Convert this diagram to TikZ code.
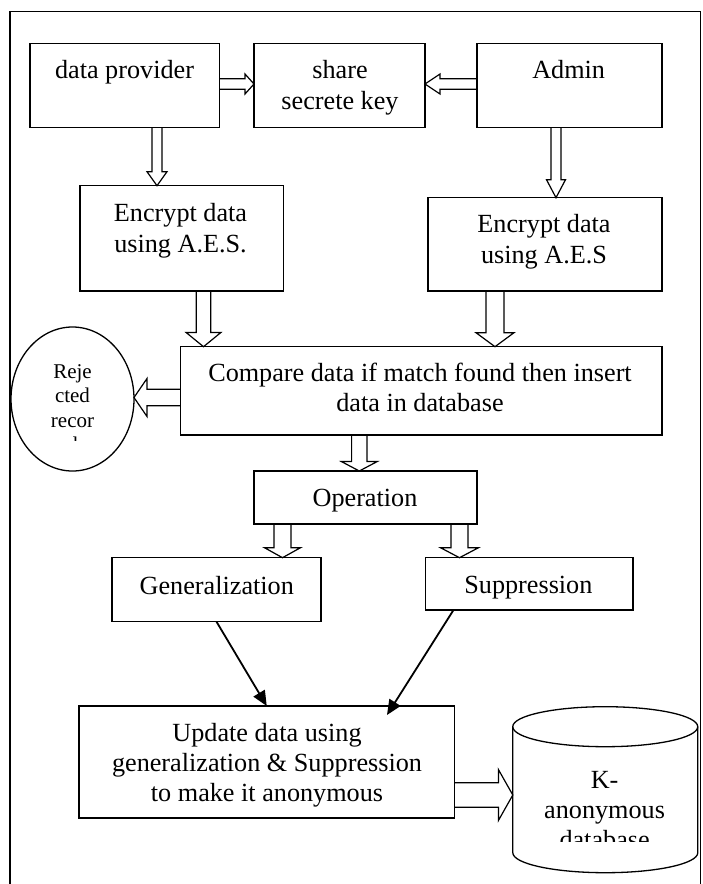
\documentclass[tikz,border=0pt]{standalone}
\usepackage{fontspec}
\setmainfont{Liberation Serif}
\usetikzlibrary{calc,arrows.meta,shapes.geometric}
\newcommand\barrowdown[5]{\draw[barrow] let \p1=#1, \p2=#2 in
 (\x2-#3pt,\y1) -- (\x2-#3pt,\y2+#5pt) -- (\x2-#4pt,\y2+#5pt) -- (\x2,\y2) -- (\x2+#4pt,\y2+#5pt) -- (\x2+#3pt,\y2+#5pt) -- (\x2+#3pt,\y1);}
\newcommand\barrowright[5]{\draw[barrow] let \p1=#1, \p2=#2 in
 (\x1,\y2+#3pt) -- (\x2-#5pt,\y2+#3pt) -- (\x2-#5pt,\y2+#4pt) -- (\x2,\y2) -- (\x2-#5pt,\y2-#4pt) -- (\x2-#5pt,\y2-#3pt) -- (\x1,\y2-#3pt);}
\newcommand\barrowleft[5]{\draw[barrow] let \p1=#1, \p2=#2 in
 (\x1,\y2+#3pt) -- (\x2+#5pt,\y2+#3pt) -- (\x2+#5pt,\y2+#4pt) -- (\x2,\y2) -- (\x2+#5pt,\y2-#4pt) -- (\x2+#5pt,\y2-#3pt) -- (\x1,\y2-#3pt);}
\begin{document}
\begin{tikzpicture}[x=1pt,y=-1pt,
  box/.style={draw, line width=1.3pt, inner sep=0pt, outer sep=0pt},
  txt/.style={font=\fontsize{26.2}{31}\selectfont, inner sep=0pt, anchor=base},
  stxt/.style={font=\fontsize{21}{25}\selectfont, inner sep=0pt, anchor=base},
  barrow/.style={draw, line width=1.2pt, line join=miter},
  sarrow/.style={draw, line width=1.8pt, -{Triangle[length=15pt,width=13pt]}}
]
\useasboundingbox (0,0) rectangle (702,884);
% outer frame
\draw[line width=1.3pt] (10,884) -- (10,11.7) -- (700.5,11.7) -- (700.5,884);

% boxes
\node[box, minimum width=189.5pt, minimum height=84pt] (dp) at (124.75,85.3) {};
\node[box, minimum width=171pt, minimum height=84pt] (share) at (339.5,85.3) {};
\node[box, minimum width=185pt, minimum height=84pt] (admin) at (569.5,85.3) {};
\node[box, minimum width=203.5pt, minimum height=105.3pt] (enc1) at (181.75,238.35) {};
\node[box, minimum width=234pt, minimum height=93.3pt] (enc2) at (545,244.35) {};
\node[box, minimum width=481.5pt, minimum height=88.3pt] (cmp) at (421.25,390.85) {};
\node[box, ellipse, minimum width=123pt, minimum height=144pt] (rej) at (72.5,399) {};
\node[box, minimum width=223pt, minimum height=53pt] (op) at (365.5,497.5) {};
\node[box, minimum width=209pt, minimum height=64pt] (gen) at (216.5,589.7) {};
\node[box, minimum width=207.5pt, minimum height=52.3pt] (supp) at (529.25,583.85) {};
\node[box, minimum width=375.5pt, minimum height=112pt] (upd) at (266.75,762) {};

% cylinder (database)
\draw[line width=1.3pt] (605.25,726.7) ellipse [x radius=92.5pt, y radius=20pt];
\draw[line width=1.3pt] (512.8,726.7) -- (512.8,852.7)
  arc[start angle=180, end angle=360, x radius=92.5pt, y radius=20pt] -- (697.7,726.7);
\coordinate (dbl) at (512.8,795);

% texts
\node[txt] (t1) at (124.5,78.3) {data provider};
\node[txt] (t2) at (340,78.3) {share};
\node[txt] (t3) at (340,109) {secrete key};
\node[txt] (t4) at (568.7,78.3) {Admin};
\node[txt] (t5) at (180.5,221) {Encrypt data};
\node[txt] (t6) at (180.5,252.5) {using A.E.S.};
\node[txt] (t7) at (544,232.5) {Encrypt data};
\node[txt] (t8) at (544,263.5) {using A.E.S};
\node[txt] (t9) at (420,381.5) {Compare data if match found then insert};
\node[txt] (t10) at (420,411) {data in database};
\node[stxt] (t11) at (72.5,378.3) {Reje};
\node[stxt] (t12) at (72.5,402.7) {cted};
\node[stxt] (t13) at (72.5,427.3) {recor};
\begin{scope}
  \clip (11,330) rectangle (134,440);
  \node[stxt] (t14) at (72.5,451.8) {d};
\end{scope}
\node[txt] (t15) at (365,506.5) {Operation};
\node[txt] (t16) at (216.8,594.5) {Generalization};
\node[txt] (t17) at (528.4,593.5) {Suppression};
\node[txt] (t18) at (267,741) {Update data using};
\node[txt] (t19) at (267,771.5) {generalization \& Suppression};
\node[txt] (t20) at (267,801) {to make it anonymous};
\node[txt] (t21) at (604.6,788) {K-};
\node[txt] (t22) at (604.6,818) {anonymous};
\begin{scope}
  \clip (513,700) rectangle (697,841.5);
  \node[txt] (t23) at (604.6,848) {database};
\end{scope}

% block arrows
\barrowright{(dp.east)}{(share.west |- 0,84)}{5.2}{10}{9}
\barrowleft{(admin.west)}{(share.east |- 0,84)}{5.2}{10}{15}
\barrowdown{(dp.south)}{(157,0 |- enc1.north)}{5}{10}{14}
\barrowdown{(admin.south)}{(556,0 |- enc2.north)}{5}{9.5}{18}
\barrowdown{(enc1.south)}{(203.5,0 |- cmp.north)}{7.3}{17.5}{14.3}
\barrowdown{(enc2.south)}{(495,0 |- cmp.north)}{9}{19}{14}
\barrowleft{(cmp.west)}{(rej.east |- 0,397.5)}{8.3}{19}{13}
\barrowdown{(cmp.south)}{(359.3,0 |- op.north)}{7.7}{18}{9.5}
\barrowdown{(op.south)}{(282.5,0 |- gen.north)}{8.5}{18}{10}
\barrowdown{(op.south)}{(459.5,0 |- supp.north)}{8.5}{19}{10}
\barrowright{(upd.east)}{(dbl)}{12.3}{25.5}{14.4}

% plain arrows
\coordinate (updin) at (387,715);
\draw[sarrow] (gen.south) -- (upd.north);
\draw[sarrow] ($(supp.south west)+(28,0)$) -- (updin);
\end{tikzpicture}
\end{document}
